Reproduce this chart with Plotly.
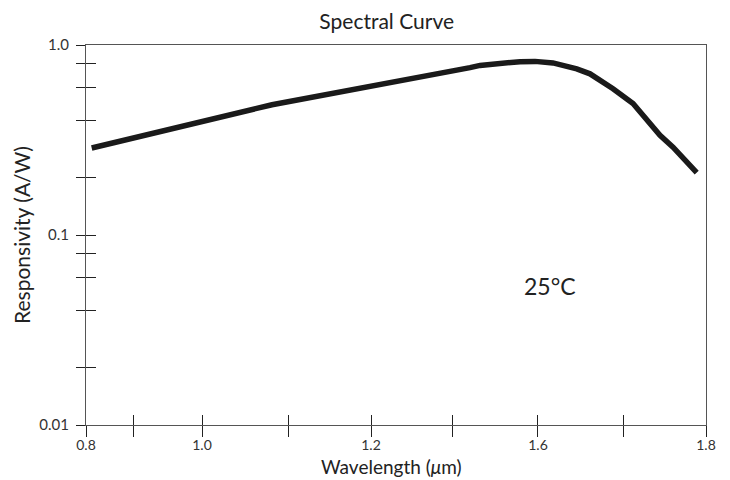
import plotly.graph_objects as go

# x axis is drawn linear over [0.8, 1.8]; tick marks sit at the reference positions
x_range = [0.8, 1.8]
x_tickvals = [0.8, 0.8774, 0.9871, 1.1258, 1.2597, 1.3919, 1.5290, 1.6677, 1.8]
x_ticktext = ["0.8", "", "1.0", "", "1.2", "", "1.6", "", "1.8"]

y_tickvals = [0.01, 0.02, 0.04, 0.06, 0.08, 0.1, 0.2, 0.4, 0.6, 0.8, 1.0]
y_ticktext = ["0.01", "", "", "", "", "0.1", "", "", "", "", "1.0"]

# curve samples (axis x units, responsivity A/W)
x_pos = [0.8092, 1.1000, 1.4194, 1.4355, 1.5000, 1.5242, 1.5532, 1.5915, 1.6129,
         1.6500, 1.6823, 1.7097, 1.7258, 1.7468, 1.7689, 1.7850]
responsivity = [0.287, 0.485, 0.760, 0.781, 0.817, 0.820, 0.805, 0.749, 0.705,
                0.588, 0.492, 0.387, 0.335, 0.290, 0.242, 0.213]

FONT = "Lato"
AXC = "#555555"

fig = go.Figure()
fig.add_trace(go.Scatter(x=x_pos, y=responsivity, mode="lines",
                         line=dict(color="#1a1a1a", width=5.5), showlegend=False,
                         hoverinfo="skip"))
# invisible trace to materialise the overlay axes (inner half of crossing ticks)
fig.add_trace(go.Scatter(x=[x_range[0]], y=[1.0], xaxis="x2", yaxis="y2",
                         mode="markers", marker=dict(opacity=0), showlegend=False,
                         hoverinfo="skip"))

common_tick = dict(tickcolor="#222222", tickwidth=1.2)
fig.update_layout(
    width=730, height=480,
    margin=dict(l=86, r=24, t=45, b=55),
    paper_bgcolor="white", plot_bgcolor="white",
    font=dict(family=FONT, color="#333333", size=15),
    title=dict(text="Spectral Curve", x=386.7 / 730, xanchor="center", y=1 - 22 / 480,
               yanchor="middle", font=dict(size=21, family=FONT, color="#222222")),
    xaxis=dict(range=x_range, tickvals=x_tickvals, ticktext=x_ticktext,
               ticks="outside", ticklen=11, showgrid=False, zeroline=False,
               showline=True, linecolor=AXC, linewidth=1, mirror=True,
               tickfont=dict(size=14, color="#333333"), ticklabelstandoff=-4,
               **common_tick),
    yaxis=dict(type="log", range=[-2, 0], tickvals=y_tickvals, ticktext=y_ticktext,
               ticks="outside", ticklen=9, showgrid=False, zeroline=False,
               showline=True, linecolor=AXC, linewidth=1, mirror=True,
               tickfont=dict(size=15, color="#333333"), ticklabelstandoff=4,
               **common_tick),
    xaxis2=dict(range=x_range, tickvals=x_tickvals, overlaying="x", anchor="y",
                side="bottom", ticks="inside", ticklen=10, showticklabels=False,
                showgrid=False, zeroline=False, showline=False, **common_tick),
    yaxis2=dict(type="log", range=[-2, 0], tickvals=y_tickvals, overlaying="y",
                anchor="x", side="left", ticks="inside", ticklen=10,
                showticklabels=False, showgrid=False, zeroline=False,
                showline=False, **common_tick),
    annotations=[
        dict(text="Wavelength (<i>μ</i>m)", xref="paper", yref="paper",
             x=(391 - 86) / 620, y=-(467 - 425) / 380, xanchor="center",
             yanchor="middle", showarrow=False,
             font=dict(size=19, color="#222222")),
        dict(text="Responsivity (A/W)", xref="paper", yref="paper",
             x=(21 - 86) / 620, y=0.5, xanchor="center", yanchor="middle",
             textangle=-90, showarrow=False, font=dict(size=21, color="#222222")),
        dict(text="25°C", xref="paper", yref="paper",
             x=(550 - 86) / 620, y=1 - (286 - 45) / 380, xanchor="center",
             yanchor="middle", showarrow=False,
             font=dict(size=23, color="#222222")),
    ],
)

fig.write_html("out.html", config={"displayModeBar": False},
               post_script="document.body.style.margin='0px';")
